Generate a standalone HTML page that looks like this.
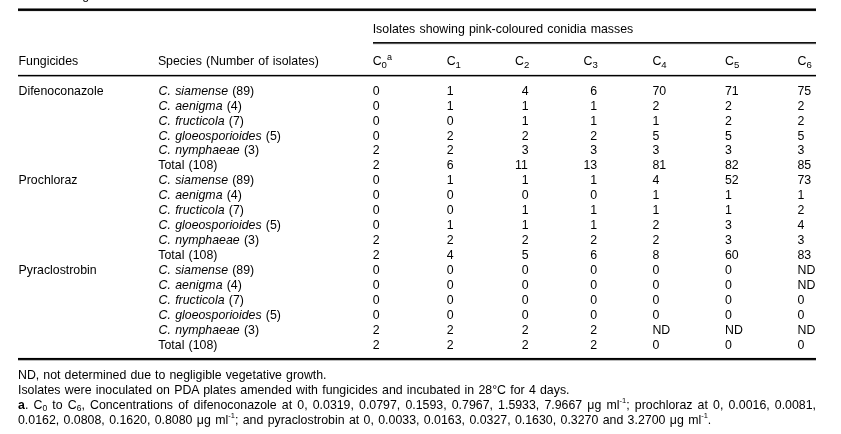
<!DOCTYPE html>
<html><head><meta charset="utf-8"><style>
html,body{margin:0;padding:0;background:#fff;}
body{will-change:transform;width:841px;height:434px;position:relative;overflow:hidden;font-family:"Liberation Sans",sans-serif;font-size:12.35px;color:#000;}
.t{position:absolute;white-space:nowrap;line-height:15px;word-spacing:0.8px;}
.r{position:absolute;background:#000;}
sub{font-size:9.6px;vertical-align:-3px;line-height:0;}
.f sub{font-size:8.5px;vertical-align:-2px;}
sup{font-size:9px;vertical-align:4.7px;line-height:0;}
.f sup{font-size:7.5px;vertical-align:6.2px;}
i{font-style:italic;}
.mu{font-family:"Liberation Sans",sans-serif;}
</style></head><body>
<div class="t" style="left:82.2px;top:-11.78px">g</div>
<div class="r" style="left:18px;width:798px;top:8px;height:1px;background:#777"></div>
<div class="r" style="left:18px;width:798px;top:9px;height:1px;background:#000"></div>
<div class="r" style="left:18px;width:798px;top:10px;height:1px;background:#111"></div>
<div class="r" style="left:18px;width:798px;top:11px;height:1px;background:#eaeaea"></div>
<div class="t " style="left:372.70px;top:21.62px">Isolates showing pink-coloured conidia masses</div>
<div class="r" style="left:373px;width:443px;top:42px;height:1px;background:#111"></div>
<div class="r" style="left:373px;width:443px;top:43px;height:1px;background:#555"></div>
<div class="r" style="left:373px;width:443px;top:44px;height:1px;background:#e6e6e6"></div>
<div class="t " style="left:18.50px;top:54.32px">Fungicides</div>
<div class="t " style="left:157.90px;top:54.32px">Species (Number of isolates)</div>
<div class="t " style="left:372.70px;top:54.42px">C<sub>0</sub><sup>a</sup></div>
<div class="t " style="left:446.70px;top:54.42px">C<sub>1</sub></div>
<div class="t " style="left:515.00px;top:54.42px">C<sub>2</sub></div>
<div class="t " style="left:583.50px;top:54.42px">C<sub>3</sub></div>
<div class="t " style="left:652.40px;top:54.42px">C<sub>4</sub></div>
<div class="t " style="left:725.00px;top:54.42px">C<sub>5</sub></div>
<div class="t " style="left:797.50px;top:54.42px">C<sub>6</sub></div>
<div class="r" style="left:18px;width:798px;top:74px;height:1px;background:#ddd"></div>
<div class="r" style="left:18px;width:798px;top:75px;height:1px;background:#000"></div>
<div class="r" style="left:18px;width:798px;top:76px;height:1px;background:#999"></div>
<div class="t " style="left:18.50px;top:83.72px">Difenoconazole</div>
<div class="t " style="left:158.60px;top:83.72px"><i>C. siamense</i> (89)</div>
<div class="t " style="left:372.70px;top:83.72px">0</div>
<div class="t " style="left:446.70px;top:83.72px">1</div>
<div class="t " style="left:521.87px;top:83.72px">4</div>
<div class="t " style="left:590.37px;top:83.72px">6</div>
<div class="t " style="left:652.40px;top:83.72px">70</div>
<div class="t " style="left:725.00px;top:83.72px">71</div>
<div class="t " style="left:797.50px;top:83.72px">75</div>
<div class="t " style="left:158.60px;top:98.72px"><i>C. aenigma</i> (4)</div>
<div class="t " style="left:372.70px;top:98.72px">0</div>
<div class="t " style="left:446.70px;top:98.72px">1</div>
<div class="t " style="left:521.87px;top:98.72px">1</div>
<div class="t " style="left:590.37px;top:98.72px">1</div>
<div class="t " style="left:652.40px;top:98.72px">2</div>
<div class="t " style="left:725.00px;top:98.72px">2</div>
<div class="t " style="left:797.50px;top:98.72px">2</div>
<div class="t " style="left:158.60px;top:113.72px"><i>C. fructicola</i> (7)</div>
<div class="t " style="left:372.70px;top:113.72px">0</div>
<div class="t " style="left:446.70px;top:113.72px">0</div>
<div class="t " style="left:521.87px;top:113.72px">1</div>
<div class="t " style="left:590.37px;top:113.72px">1</div>
<div class="t " style="left:652.40px;top:113.72px">1</div>
<div class="t " style="left:725.00px;top:113.72px">2</div>
<div class="t " style="left:797.50px;top:113.72px">2</div>
<div class="t " style="left:158.60px;top:128.72px"><i>C. gloeosporioides</i> (5)</div>
<div class="t " style="left:372.70px;top:128.72px">0</div>
<div class="t " style="left:446.70px;top:128.72px">2</div>
<div class="t " style="left:521.87px;top:128.72px">2</div>
<div class="t " style="left:590.37px;top:128.72px">2</div>
<div class="t " style="left:652.40px;top:128.72px">5</div>
<div class="t " style="left:725.00px;top:128.72px">5</div>
<div class="t " style="left:797.50px;top:128.72px">5</div>
<div class="t " style="left:158.60px;top:142.72px"><i>C. nymphaeae</i> (3)</div>
<div class="t " style="left:372.70px;top:142.72px">2</div>
<div class="t " style="left:446.70px;top:142.72px">2</div>
<div class="t " style="left:521.87px;top:142.72px">3</div>
<div class="t " style="left:590.37px;top:142.72px">3</div>
<div class="t " style="left:652.40px;top:142.72px">3</div>
<div class="t " style="left:725.00px;top:142.72px">3</div>
<div class="t " style="left:797.50px;top:142.72px">3</div>
<div class="t " style="left:158.30px;top:157.72px">Total (108)</div>
<div class="t " style="left:372.70px;top:157.72px">2</div>
<div class="t " style="left:446.70px;top:157.72px">6</div>
<div class="t " style="left:515.00px;top:157.72px">11</div>
<div class="t " style="left:583.50px;top:157.72px">13</div>
<div class="t " style="left:652.40px;top:157.72px">81</div>
<div class="t " style="left:725.00px;top:157.72px">82</div>
<div class="t " style="left:797.50px;top:157.72px">85</div>
<div class="t " style="left:18.50px;top:172.72px">Prochloraz</div>
<div class="t " style="left:158.60px;top:172.72px"><i>C. siamense</i> (89)</div>
<div class="t " style="left:372.70px;top:172.72px">0</div>
<div class="t " style="left:446.70px;top:172.72px">1</div>
<div class="t " style="left:521.87px;top:172.72px">1</div>
<div class="t " style="left:590.37px;top:172.72px">1</div>
<div class="t " style="left:652.40px;top:172.72px">4</div>
<div class="t " style="left:725.00px;top:172.72px">52</div>
<div class="t " style="left:797.50px;top:172.72px">73</div>
<div class="t " style="left:158.60px;top:187.72px"><i>C. aenigma</i> (4)</div>
<div class="t " style="left:372.70px;top:187.72px">0</div>
<div class="t " style="left:446.70px;top:187.72px">0</div>
<div class="t " style="left:521.87px;top:187.72px">0</div>
<div class="t " style="left:590.37px;top:187.72px">0</div>
<div class="t " style="left:652.40px;top:187.72px">1</div>
<div class="t " style="left:725.00px;top:187.72px">1</div>
<div class="t " style="left:797.50px;top:187.72px">1</div>
<div class="t " style="left:158.60px;top:202.72px"><i>C. fructicola</i> (7)</div>
<div class="t " style="left:372.70px;top:202.72px">0</div>
<div class="t " style="left:446.70px;top:202.72px">0</div>
<div class="t " style="left:521.87px;top:202.72px">1</div>
<div class="t " style="left:590.37px;top:202.72px">1</div>
<div class="t " style="left:652.40px;top:202.72px">1</div>
<div class="t " style="left:725.00px;top:202.72px">1</div>
<div class="t " style="left:797.50px;top:202.72px">2</div>
<div class="t " style="left:158.60px;top:217.72px"><i>C. gloeosporioides</i> (5)</div>
<div class="t " style="left:372.70px;top:217.72px">0</div>
<div class="t " style="left:446.70px;top:217.72px">1</div>
<div class="t " style="left:521.87px;top:217.72px">1</div>
<div class="t " style="left:590.37px;top:217.72px">1</div>
<div class="t " style="left:652.40px;top:217.72px">2</div>
<div class="t " style="left:725.00px;top:217.72px">3</div>
<div class="t " style="left:797.50px;top:217.72px">4</div>
<div class="t " style="left:158.60px;top:232.72px"><i>C. nymphaeae</i> (3)</div>
<div class="t " style="left:372.70px;top:232.72px">2</div>
<div class="t " style="left:446.70px;top:232.72px">2</div>
<div class="t " style="left:521.87px;top:232.72px">2</div>
<div class="t " style="left:590.37px;top:232.72px">2</div>
<div class="t " style="left:652.40px;top:232.72px">2</div>
<div class="t " style="left:725.00px;top:232.72px">3</div>
<div class="t " style="left:797.50px;top:232.72px">3</div>
<div class="t " style="left:158.30px;top:247.72px">Total (108)</div>
<div class="t " style="left:372.70px;top:247.72px">2</div>
<div class="t " style="left:446.70px;top:247.72px">4</div>
<div class="t " style="left:521.87px;top:247.72px">5</div>
<div class="t " style="left:590.37px;top:247.72px">6</div>
<div class="t " style="left:652.40px;top:247.72px">8</div>
<div class="t " style="left:725.00px;top:247.72px">60</div>
<div class="t " style="left:797.50px;top:247.72px">83</div>
<div class="t " style="left:18.50px;top:262.72px">Pyraclostrobin</div>
<div class="t " style="left:158.60px;top:262.72px"><i>C. siamense</i> (89)</div>
<div class="t " style="left:372.70px;top:262.72px">0</div>
<div class="t " style="left:446.70px;top:262.72px">0</div>
<div class="t " style="left:521.87px;top:262.72px">0</div>
<div class="t " style="left:590.37px;top:262.72px">0</div>
<div class="t " style="left:652.40px;top:262.72px">0</div>
<div class="t " style="left:725.00px;top:262.72px">0</div>
<div class="t " style="left:797.50px;top:262.72px">ND</div>
<div class="t " style="left:158.60px;top:277.72px"><i>C. aenigma</i> (4)</div>
<div class="t " style="left:372.70px;top:277.72px">0</div>
<div class="t " style="left:446.70px;top:277.72px">0</div>
<div class="t " style="left:521.87px;top:277.72px">0</div>
<div class="t " style="left:590.37px;top:277.72px">0</div>
<div class="t " style="left:652.40px;top:277.72px">0</div>
<div class="t " style="left:725.00px;top:277.72px">0</div>
<div class="t " style="left:797.50px;top:277.72px">ND</div>
<div class="t " style="left:158.60px;top:292.72px"><i>C. fructicola</i> (7)</div>
<div class="t " style="left:372.70px;top:292.72px">0</div>
<div class="t " style="left:446.70px;top:292.72px">0</div>
<div class="t " style="left:521.87px;top:292.72px">0</div>
<div class="t " style="left:590.37px;top:292.72px">0</div>
<div class="t " style="left:652.40px;top:292.72px">0</div>
<div class="t " style="left:725.00px;top:292.72px">0</div>
<div class="t " style="left:797.50px;top:292.72px">0</div>
<div class="t " style="left:158.60px;top:307.72px"><i>C. gloeosporioides</i> (5)</div>
<div class="t " style="left:372.70px;top:307.72px">0</div>
<div class="t " style="left:446.70px;top:307.72px">0</div>
<div class="t " style="left:521.87px;top:307.72px">0</div>
<div class="t " style="left:590.37px;top:307.72px">0</div>
<div class="t " style="left:652.40px;top:307.72px">0</div>
<div class="t " style="left:725.00px;top:307.72px">0</div>
<div class="t " style="left:797.50px;top:307.72px">0</div>
<div class="t " style="left:158.60px;top:322.72px"><i>C. nymphaeae</i> (3)</div>
<div class="t " style="left:372.70px;top:322.72px">2</div>
<div class="t " style="left:446.70px;top:322.72px">2</div>
<div class="t " style="left:521.87px;top:322.72px">2</div>
<div class="t " style="left:590.37px;top:322.72px">2</div>
<div class="t " style="left:652.40px;top:322.72px">ND</div>
<div class="t " style="left:725.00px;top:322.72px">ND</div>
<div class="t " style="left:797.50px;top:322.72px">ND</div>
<div class="t " style="left:158.30px;top:337.72px">Total (108)</div>
<div class="t " style="left:372.70px;top:337.72px">2</div>
<div class="t " style="left:446.70px;top:337.72px">2</div>
<div class="t " style="left:521.87px;top:337.72px">2</div>
<div class="t " style="left:590.37px;top:337.72px">2</div>
<div class="t " style="left:652.40px;top:337.72px">0</div>
<div class="t " style="left:725.00px;top:337.72px">0</div>
<div class="t " style="left:797.50px;top:337.72px">0</div>
<div class="r" style="left:18px;width:798px;top:357px;height:1px;background:#eee"></div>
<div class="r" style="left:18px;width:798px;top:358px;height:1px;background:#000"></div>
<div class="r" style="left:18px;width:798px;top:359px;height:1px;background:#111"></div>
<div class="r" style="left:18px;width:798px;top:360px;height:1px;background:#bbb"></div>
<div class="t " style="left:18.00px;top:368.32px;word-spacing:0.65px">ND, not determined due to negligible vegetative growth.</div>
<div class="t " style="left:18.00px;top:383.22px;word-spacing:0.8px">Isolates were inoculated on PDA plates amended with fungicides and incubated in 28°C for 4 days.</div>
<div class="t f" style="left:18.00px;top:398.12px;width:798px;text-align:justify;text-align-last:justify;white-space:normal"><b>a</b>. C<sub>0</sub> to C<sub>6</sub>, Concentrations of difenoconazole at 0, 0.0319, 0.0797, 0.1593, 0.7967, 1.5933, 7.9667 <span class="mu">μ</span>g ml<sup>-1</sup>; prochloraz at 0, 0.0016, 0.0081,</div>
<div class="t f" style="left:18.00px;top:413.02px;word-spacing:0.95px">0.0162, 0.0808, 0.1620, 0.8080 <span class="mu">μ</span>g ml<sup>-1</sup>; and pyraclostrobin at 0, 0.0033, 0.0163, 0.0327, 0.1630, 0.3270 and 3.2700 <span class="mu">μ</span>g ml<sup>-1</sup>.</div>
</body></html>
